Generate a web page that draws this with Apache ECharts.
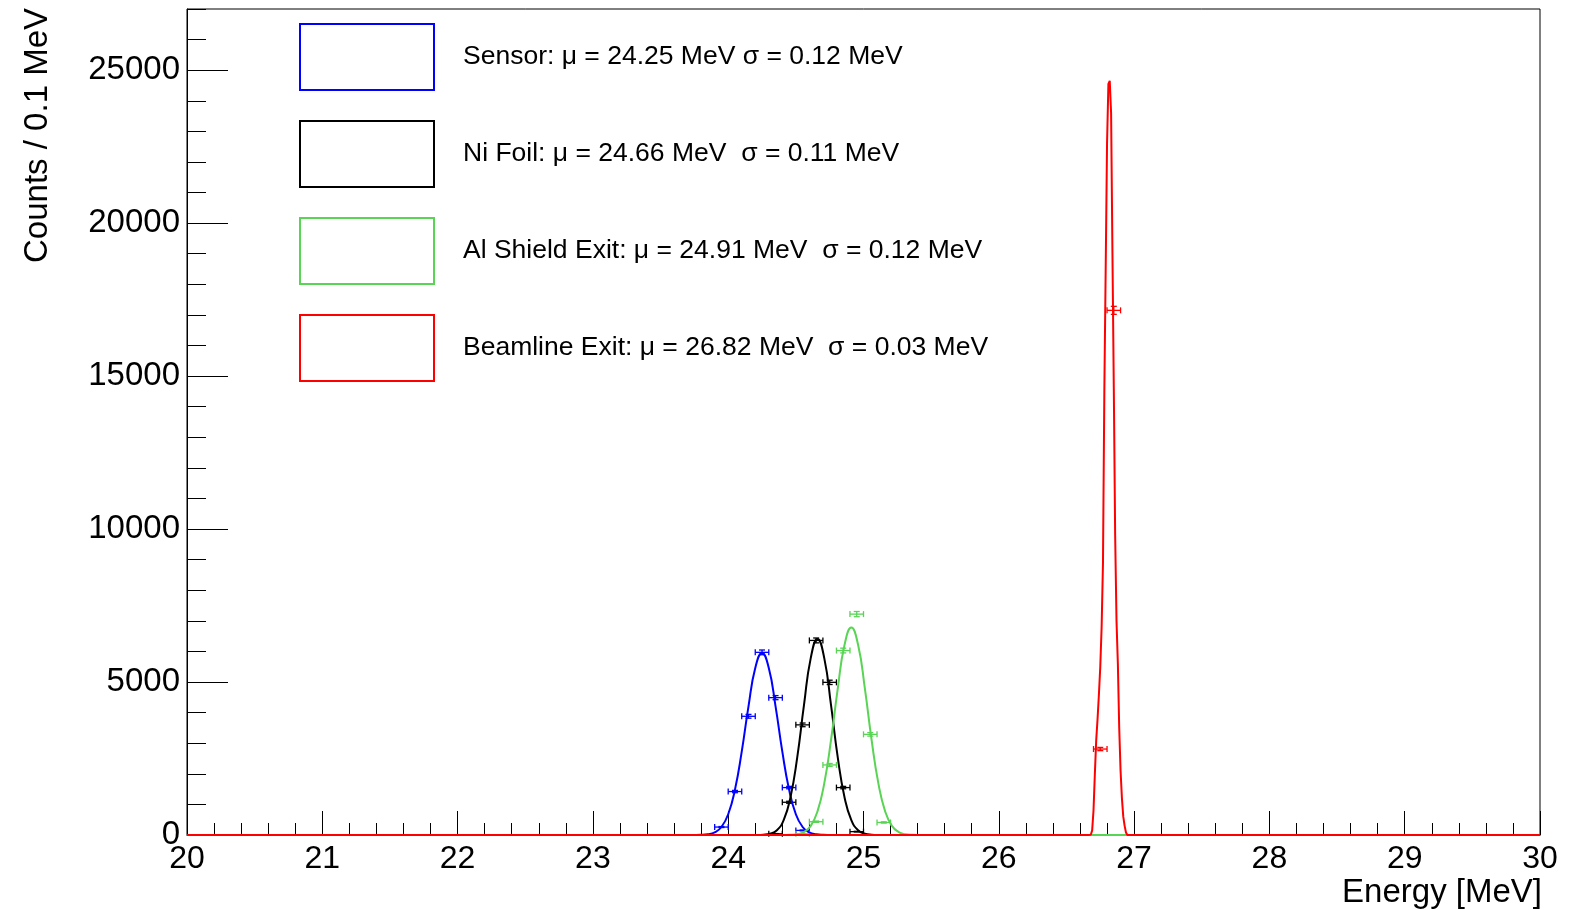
<!DOCTYPE html>
<html>
<head>
<meta charset="utf-8">
<title>Energy spectra</title>
<script src="https://cdn.jsdelivr.net/npm/echarts@6/dist/echarts.min.js"></script>
<style>
  html, body { margin: 0; padding: 0; background: #fff; }
  #chart { width: 1581px; height: 910px; }
</style>
</head>
<body>
<div id="chart"></div>
<script>
// axis ranges / tick steps
const energyRange = [20, 30];
const energyStep = 1;
const countRange = [0, 27000];
const countStep = 5000;
const countMinorStep = 1000;
const binHalf = 0.05; // bins are 0.1 MeV wide

const legendLabels = [
  'Sensor: μ = 24.25 MeV σ = 0.12 MeV',
  'Ni Foil: μ = 24.66 MeV  σ = 0.11 MeV',
  'Al Shield Exit: μ = 24.91 MeV  σ = 0.12 MeV',
  'Beamline Exit: μ = 26.82 MeV  σ = 0.03 MeV'
];
const colors = ['#0000ff', '#000000', '#59d454', '#ff0000'];

// histogram points (bin centre, counts)
const sensorBinE = [23.95, 24.05, 24.15, 24.25, 24.35, 24.45, 24.55];
const sensorBinN = [260, 1420, 3880, 5970, 4490, 1550, 150];
const niBinE = [24.35, 24.45, 24.55, 24.65, 24.75, 24.85, 24.95];
const niBinN = [40, 1070, 3600, 6360, 4990, 1550, 110];
const alBinE = [24.55, 24.65, 24.75, 24.85, 24.95, 25.05, 25.15];
const alBinN = [40, 435, 2290, 6030, 7220, 3290, 410];
const beamBinE = [26.75, 26.85];
const beamBinN = [2810, 17150];

// fitted curves
const sensorFitE = [20, 23.70, 23.75, 23.80, 23.85, 23.90, 23.95, 24.00, 24.05, 24.10, 24.15, 24.20, 24.25,
  24.30, 24.35, 24.40, 24.45, 24.50, 24.55, 24.60, 24.65, 24.70, 24.75, 24.80, 30];
const sensorFitN = [0, 0, 1, 5, 23, 84, 261, 678, 1482, 2725, 4207, 5456, 5950,
  5456, 4207, 2725, 1482, 678, 261, 84, 23, 5, 1, 0, 0];

const niFitE = [20, 24.16, 24.21, 24.26, 24.31, 24.36, 24.41, 24.46, 24.51, 24.56, 24.61, 24.66,
  24.71, 24.76, 24.81, 24.86, 24.91, 24.96, 25.01, 25.06, 25.11, 25.16, 30];
const niFitN = [0, 0, 1, 9, 41, 156, 485, 1228, 2529, 4243, 5782, 6410,
  5782, 4243, 2529, 1228, 485, 156, 41, 9, 1, 0, 0];

const alFitE = [20, 24.36, 24.41, 24.46, 24.51, 24.56, 24.61, 24.66, 24.71, 24.76, 24.81, 24.86, 24.91,
  24.96, 25.01, 25.06, 25.11, 25.16, 25.21, 25.26, 25.31, 25.36, 25.41, 25.46, 30];
const alFitN = [0, 0, 1, 6, 26, 96, 298, 773, 1688, 3105, 4794, 6217, 6780,
  6217, 4794, 3105, 1688, 773, 298, 96, 26, 6, 1, 0, 0];

const beamFitE = [20, 26.66, 26.67, 26.68, 26.69, 26.70, 26.71, 26.72, 26.73, 26.74, 26.75, 26.76, 26.77,
  26.78, 26.79, 26.80, 26.81, 26.82, 26.83, 26.84, 26.85, 26.86, 26.87, 26.88, 26.89, 26.90,
  26.91, 26.92, 26.93, 26.94, 26.95, 30];
const beamFitN = [0, 0, 0, 10, 150, 800, 2000, 3100, 3800, 4600, 5500, 6800, 8900,
  14500, 18500, 22600, 24550, 24650, 23600, 19000, 14600, 9800, 7000, 5600, 3500, 2100,
  1200, 600, 300, 80, 0, 0];

const fontFamily = '"Liberation Sans", Arial, Helvetica, sans-serif';

function zip(xs, ys) {
  return xs.map((x, i) => [x, ys[i]]);
}

function errorBarItem(params, api) {
  const e = api.value(0);
  const n = api.value(1);
  const err = Math.sqrt(n);
  const l = api.coord([e - binHalf, n]);
  const r = api.coord([e + binHalf, n]);
  const t = api.coord([e, n + err]);
  const b = api.coord([e, n - err]);
  const cap = 3;
  const style = { stroke: api.visual('color'), lineWidth: 1.3 };
  const seg = (x1, y1, x2, y2) => ({ type: 'line', shape: { x1, y1, x2, y2 }, style });
  return {
    type: 'group',
    children: [
      seg(l[0], l[1], r[0], r[1]),
      seg(l[0], l[1] - cap, l[0], l[1] + cap),
      seg(r[0], r[1] - cap, r[0], r[1] + cap),
      seg(t[0], t[1], b[0], b[1]),
      seg(t[0] - cap, t[1], t[0] + cap, t[1]),
      seg(b[0] - cap, b[1], b[0] + cap, b[1])
    ]
  };
}

const fits = [
  [sensorFitE, sensorFitN, 0.5],
  [niFitE, niFitN, 0.5],
  [alFitE, alFitN, 0.5],
  [beamFitE, beamFitN, false]
];
const bins = [
  [sensorBinE, sensorBinN],
  [niBinE, niBinN],
  [alBinE, alBinN],
  [beamBinE, beamBinN]
];

const series = [];
fits.forEach((f, i) => {
  series.push({
    name: legendLabels[i],
    type: 'line',
    data: zip(f[0], f[1]),
    symbol: 'none',
    smooth: f[2],
    lineStyle: { color: colors[i], width: 2 },
    itemStyle: { color: colors[i] }
  });
  series.push({
    name: 'points' + i,
    type: 'custom',
    data: zip(bins[i][0], bins[i][1]),
    renderItem: errorBarItem,
    itemStyle: { color: colors[i] },
    encode: { x: 0, y: 1 }
  });
});

const chart = echarts.init(document.getElementById('chart'));
chart.setOption({
  animation: false,
  backgroundColor: '#fff',
  grid: {
    left: 187, right: 41, top: 9, bottom: 75,
    show: true, borderColor: '#000', borderWidth: 1,
    outerBoundsMode: 'none'
  },
  legend: {
    orient: 'vertical',
    left: 299,
    top: 23,
    padding: 0,
    itemWidth: 134,
    itemHeight: 66,
    itemGap: 29,
    icon: 'rect',
    selectedMode: false,
    textStyle: { fontSize: 26.5, fontFamily, color: '#000', padding: [10, 0, 0, 24] },
    data: legendLabels.map((name, i) => ({
      name,
      itemStyle: { color: 'rgba(0,0,0,0)', borderColor: colors[i], borderWidth: 2 }
    }))
  },
  xAxis: {
    type: 'value',
    min: energyRange[0],
    max: energyRange[1],
    interval: energyStep,
    axisLine: { lineStyle: { color: '#000', width: 1 } },
    axisTick: { inside: true, length: 24, lineStyle: { color: '#000' } },
    minorTick: { show: true, splitNumber: 5, length: 12, lineStyle: { color: '#000' } },
    splitLine: { show: false },
    axisLabel: { fontSize: 32, fontFamily, color: '#000', margin: 8 }
  },
  yAxis: [
    {
      type: 'value',
      position: 'left',
      min: countRange[0],
      max: countRange[1],
      interval: countStep,
      axisLine: { show: true, lineStyle: { color: '#000', width: 1 } },
      axisTick: { show: true, inside: true, length: 41, lineStyle: { color: '#000' } },
      splitLine: { show: false },
      axisLabel: {
        fontSize: 33, fontFamily, color: '#000', margin: 7, showMaxLabel: false,
        formatter: (v) => String(v)
      }
    },
    {
      type: 'value',
      position: 'left',
      min: countRange[0],
      max: countRange[1],
      interval: countMinorStep,
      axisLine: { show: false },
      axisTick: { show: true, inside: true, length: 19, lineStyle: { color: '#000' } },
      splitLine: { show: false },
      axisLabel: { show: false }
    }
  ],
  graphic: [
    {
      type: 'text',
      x: 38, y: 8,
      rotation: Math.PI / 2,
      style: { text: 'Counts / 0.1 MeV', fontSize: 33, fontFamily, fill: '#000', align: 'right', verticalAlign: 'middle' }
    },
    {
      type: 'text',
      x: 1542, y: 909,
      style: { text: 'Energy [MeV]', fontSize: 33, fontFamily, fill: '#000', align: 'right', verticalAlign: 'bottom' }
    }
  ],
  series
});
</script>
</body>
</html>
